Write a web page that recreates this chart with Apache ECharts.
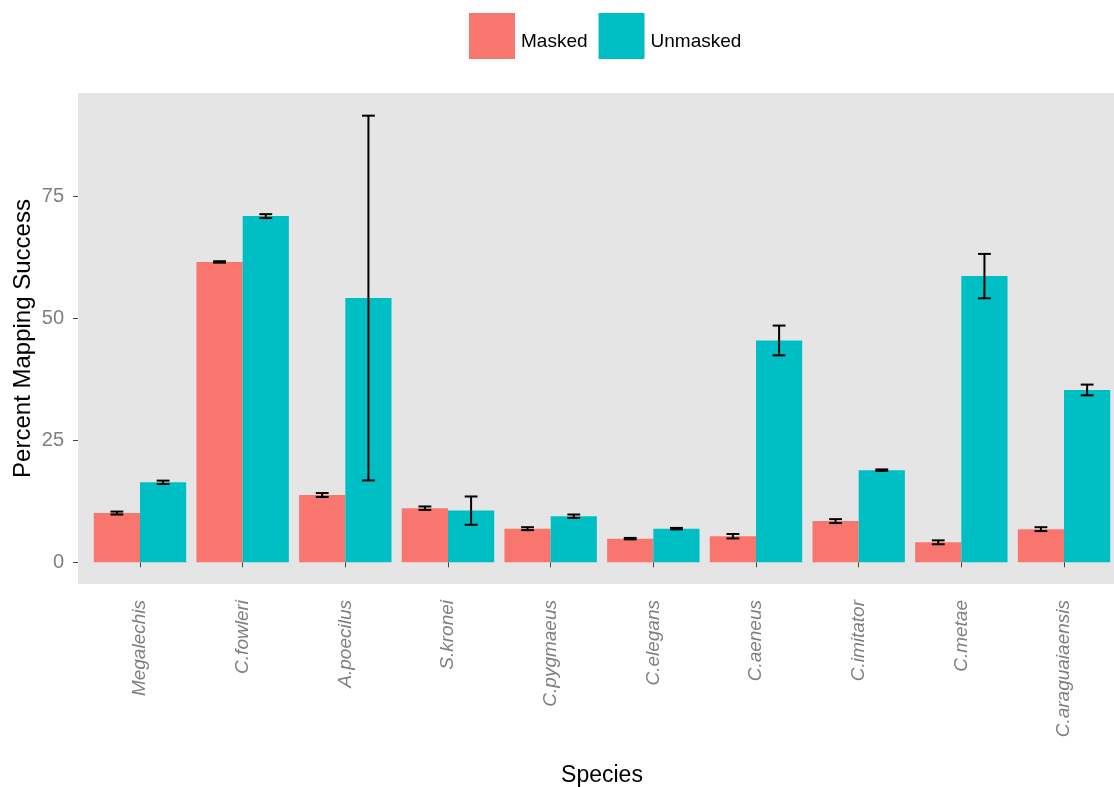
<!DOCTYPE html>
<html>
<head>
<meta charset="utf-8">
<title>Percent Mapping Success by Species</title>
<script src="https://cdn.jsdelivr.net/npm/echarts@6/dist/echarts.min.js"></script>
<style>
  html, body { margin: 0; padding: 0; background: #ffffff; }
  #chart { width: 1114px; height: 787px; }
</style>
</head>
<body>
<div id="chart"></div>
<script>
// Species on the x axis
const species = ['Megalechis', 'C.fowleri', 'A.poecilus', 'S.kronei', 'C.pygmaeus',
                 'C.elegans', 'C.aeneus', 'C.imitator', 'C.metae', 'C.araguaiaensis'];

// Mean percent mapping success and its error half-width, per treatment
const maskedMean   = [10.1, 61.6, 13.8, 11.1, 6.9, 4.85, 5.35, 8.45, 4.1, 6.8];
const maskedErr    = [0.3, 0.15, 0.4, 0.35, 0.3, 0.15, 0.45, 0.4, 0.4, 0.4];
const unmaskedMean = [16.4, 71.0, 54.2, 10.6, 9.45, 6.9, 45.5, 18.9, 58.7, 35.35];
const unmaskedErr  = [0.35, 0.4, 37.4, 2.9, 0.35, 0.15, 3.05, 0.15, 4.55, 1.1];

// Y tick values
const yTicks = [0, 25, 50, 75];

const groups = ['Masked', 'Unmasked'];
const colors = ['#F8766D', '#00BFC4'];

const Y_MIN = -4.45, Y_MAX = 96.25;
const FONT = 'Liberation Sans, Arial, sans-serif';

// Error bars: vertical whisker plus two caps, dodged left/right of the category centre
function errorSeries(means, errs, side) {
  return {
    type: 'custom',
    xAxisIndex: 1,
    yAxisIndex: 1,
    z: 10,
    silent: true,
    data: means.map((m, i) => [i, m, errs[i]]),
    encode: { x: 0, y: 1 },
    renderItem: function (params, api) {
      const i = api.value(0), m = api.value(1), e = api.value(2);
      const band = api.size([1, 0])[0];
      const off = side * band * 0.225;
      const half = band * 0.0625;
      const hi = api.coord([i, m + e]);
      const lo = api.coord([i, m - e]);
      const cx = hi[0] + off;
      const style = { stroke: '#000000', lineWidth: 2 };
      return {
        type: 'group',
        children: [
          { type: 'line', shape: { x1: cx, y1: hi[1], x2: cx, y2: lo[1] }, style: style },
          { type: 'line', shape: { x1: cx - half, y1: hi[1], x2: cx + half, y2: hi[1] }, style: style },
          { type: 'line', shape: { x1: cx - half, y1: lo[1], x2: cx + half, y2: lo[1] }, style: style }
        ]
      };
    }
  };
}

const chart = echarts.init(document.getElementById('chart'), null, { renderer: 'canvas' });

chart.setOption({
  animation: false,
  backgroundColor: '#ffffff',
  textStyle: { fontFamily: FONT },
  legend: {
    data: groups,
    left: 469,
    top: 13,
    padding: 0,
    icon: 'rect',
    itemWidth: 46,
    itemHeight: 46,
    itemGap: 11,
    formatter: '{t|{name}}',
    textStyle: {
      fontFamily: FONT, fontSize: 19, color: '#000000',
      rich: { t: { fontFamily: FONT, fontSize: 19, color: '#000000', padding: [12, 0, 0, 1] } }
    }
  },
  grid: [
    // panel background
    { left: 78, top: 93, width: 1047, height: 491, show: true,
      backgroundColor: '#E5E5E5', borderWidth: 0, outerBoundsMode: 'none' },
    // data area (category bands)
    { left: 88.65, top: 93, width: 1026.7, height: 491, show: false,
      outerBoundsMode: 'none' }
  ],
  xAxis: [
    { type: 'value', gridIndex: 0, show: false, min: 0, max: 1 },
    {
      type: 'category',
      gridIndex: 1,
      data: species,
      axisLine: { show: false },
      axisTick: { show: true, alignWithLabel: true, length: 5,
                  lineStyle: { color: '#444444', width: 1 } },
      axisLabel: {
        rotate: 90,
        interval: 0,
        margin: 16,
        fontStyle: 'italic',
        fontFamily: FONT,
        fontSize: 19,
        color: '#7F7F7F'
      },
      name: 'Species',
      nameLocation: 'middle',
      nameGap: 180,
      nameMoveOverlap: false,
      nameTextStyle: { fontFamily: FONT, fontSize: 23, color: '#000000' }
    }
  ],
  yAxis: [
    {
      type: 'value',
      gridIndex: 0,
      min: Y_MIN,
      max: Y_MAX,
      splitLine: { show: false },
      axisLine: { show: false },
      axisTick: { show: true, length: 5, customValues: yTicks,
                  lineStyle: { color: '#444444', width: 1 } },
      axisLabel: { customValues: yTicks, margin: 14, fontFamily: FONT,
                   fontSize: 20, color: '#7F7F7F' },
      name: 'Percent Mapping Success',
      nameLocation: 'middle',
      nameGap: 43,
      nameMoveOverlap: false,
      nameTextStyle: { fontFamily: FONT, fontSize: 24, color: '#000000' }
    },
    { type: 'value', gridIndex: 1, min: Y_MIN, max: Y_MAX, show: false,
      splitLine: { show: false } }
  ],
  series: [
    {
      name: groups[0],
      type: 'bar',
      xAxisIndex: 1,
      yAxisIndex: 1,
      data: maskedMean,
      barWidth: '45%',
      barGap: '0%',
      itemStyle: { color: colors[0] }
    },
    {
      name: groups[1],
      type: 'bar',
      xAxisIndex: 1,
      yAxisIndex: 1,
      data: unmaskedMean,
      barWidth: '45%',
      barGap: '0%',
      itemStyle: { color: colors[1] }
    },
    errorSeries(maskedMean, maskedErr, -1),
    errorSeries(unmaskedMean, unmaskedErr, 1)
  ]
});
</script>
</body>
</html>
